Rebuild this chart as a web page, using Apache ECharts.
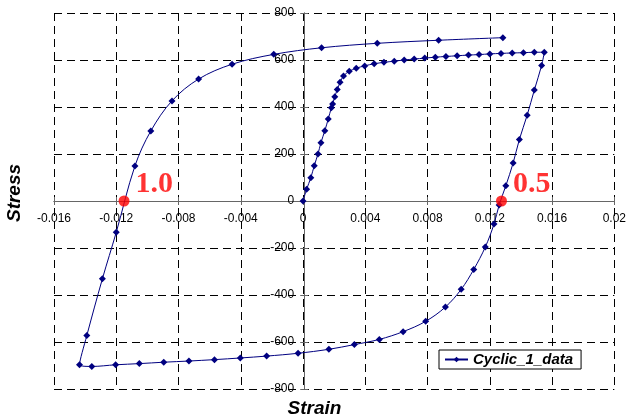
<!DOCTYPE html>
<html><head><meta charset="utf-8">
<script src="https://cdn.jsdelivr.net/npm/echarts@6/dist/echarts.min.js"></script>
<style>html,body{margin:0;padding:0;background:#fff}#c{width:629px;height:420px}</style>
</head><body><div id="c"></div>
<script>
// Cyclic_1_data: initial loading, unloading, reloading (strain, stress)
const strain = [
  0, 0.00023, 0.0005, 0.00072, 0.00096, 0.00115, 0.0014, 0.00162, 0.00182, 0.0019,
  0.00204, 0.0022, 0.00238, 0.0026, 0.00297, 0.00342, 0.00396, 0.00457, 0.0052, 0.00586,
  0.0065, 0.00714, 0.00782, 0.0085, 0.00918, 0.0099, 0.01063, 0.01131, 0.012, 0.01272,
  0.01344, 0.01416, 0.01486, 0.0155,
  0.01533, 0.01486, 0.0144, 0.0139, 0.0135, 0.01303, 0.0126, 0.01227, 0.01171, 0.01097,
  0.01016, 0.00915, 0.00788, 0.00643, 0.0049, 0.0033, 0.00166, -0.00032, -0.00234, -0.00403,
  -0.00569, -0.00733, -0.00895, -0.01052, -0.01204, -0.01357, -0.01436,
  -0.01389, -0.01289, -0.012, -0.0108, -0.00978, -0.00842, -0.00671, -0.00456, -0.00188,
  0.00119, 0.00477, 0.00871, 0.01284
];
const stress = [
  0, 50, 99, 150, 200, 248, 299, 349, 397, 413,
  444, 474, 505, 532, 552, 565, 575, 584, 590, 595,
  600, 604, 608, 612, 615, 618, 621, 623, 626, 628,
  630, 631, 633, 633,
  577, 472, 365, 262, 162, 65, -17, -98, -196, -291,
  -376, -451, -512, -556, -589, -611, -631, -648, -660, -668,
  -675, -681, -686, -692, -697, -704, -697,
  -572, -331, -133, 149, 298, 426, 519, 582, 624,
  652, 671, 684, 695
];
const seriesName = 'Cyclic_1_data';
const markerStrain = [-0.0115, 0.01275];
const markerStress = [0, 0];
const markerLabels = ['1.0', '0.5'];
const xMin = -0.016, xMax = 0.02, xStep = 0.004;
const yMin = -800, yMax = 800, yStep = 200;

const W = 629, H = 420;
const G = { left: 54, right: 12, top: 13, bottom: 31 };
const plotW = W - G.left - G.right, plotH = H - G.top - G.bottom;
// shift axes from the grid edges to the zero lines of the other axis
const yAxisShift = -plotW * (0 - xMin) / (xMax - xMin);
const xAxisShift = -plotH * (0 - yMin) / (yMax - yMin);

const font = 'Liberation Sans, Arial, sans-serif';
const axisGray = '#666';
const gridLine = { show: true, lineStyle: { color: '#000', width: 1, type: [8, 5] } };
const tickStyle = { color: axisGray, width: 1 };

const chart = echarts.init(document.getElementById('c'), null, { renderer: 'canvas' });
chart.setOption({
  animation: false,
  backgroundColor: '#fff',
  grid: G,
  xAxis: [
    {
      type: 'value', min: xMin, max: xMax, interval: xStep, position: 'bottom', offset: xAxisShift,
      axisLine: { onZero: false, lineStyle: { color: axisGray, width: 1 } },
      axisTick: { show: true, length: 4, lineStyle: tickStyle },
      axisLabel: { margin: 12, color: '#000', fontFamily: font, fontSize: 12,
        formatter: v => String(+(+v).toFixed(3)) },
      splitLine: gridLine
    },
    {
      type: 'value', min: xMin, max: xMax, interval: xStep, position: 'bottom', offset: xAxisShift,
      axisLine: { onZero: false, lineStyle: { color: axisGray, width: 1 } },
      axisTick: { show: true, inside: true, length: 4, lineStyle: tickStyle },
      axisLabel: { show: false }, splitLine: { show: false }
    }
  ],
  yAxis: [
    {
      type: 'value', min: yMin, max: yMax, interval: yStep, position: 'left', offset: yAxisShift,
      axisLine: { onZero: false, lineStyle: { color: axisGray, width: 1 } },
      axisTick: { show: true, length: 4, lineStyle: tickStyle },
      axisLabel: { margin: 10, color: '#000', fontFamily: font, fontSize: 12 },
      splitLine: gridLine
    },
    {
      type: 'value', min: yMin, max: yMax, interval: yStep, position: 'left', offset: yAxisShift,
      axisLine: { onZero: false, lineStyle: { color: axisGray, width: 1 } },
      axisTick: { show: true, inside: true, length: 4, lineStyle: tickStyle },
      axisLabel: { show: false }, splitLine: { show: false }
    }
  ],
  legend: {
    data: [seriesName], left: 439, top: 350,
    backgroundColor: '#fff', borderColor: '#000', borderWidth: 1,
    padding: [2, 8, 2, 5], itemWidth: 23, itemHeight: 7, itemGap: 4,
    textStyle: { color: '#000', fontFamily: font, fontSize: 15, fontWeight: 'bold', fontStyle: 'italic' }
  },
  graphic: [
    { type: 'text', left: 'center', x: 0, top: 399,
      style: { text: 'Strain', font: 'italic bold 19px ' + font, fill: '#000' } },
    { type: 'text', x: 5, y: 193, rotation: Math.PI / 2, originX: 0, originY: 0,
      style: { text: 'Stress', font: 'italic bold 19px ' + font, fill: '#000', align: 'center', verticalAlign: 'top' } }
  ],
  series: [
    {
      type: 'line', name: seriesName, xAxisIndex: 0, yAxisIndex: 0,
      data: strain.map((s, i) => [s, stress[i]]),
      smooth: 0.35, symbol: 'diamond', symbolSize: 7, showSymbol: true,
      lineStyle: { color: '#000080', width: 1 }, itemStyle: { color: '#000080' }, z: 3
    },
    {
      type: 'scatter', name: 'markers', xAxisIndex: 0, yAxisIndex: 0,
      data: markerStrain.map((s, i) => [s, markerStress[i]]),
      symbol: 'circle', symbolSize: 11, itemStyle: { color: '#ff0000' },
      label: { show: true, position: 'right', distance: 6, offset: [0, -17],
        formatter: p => markerLabels[p.dataIndex],
        color: '#ff0000', fontFamily: 'Liberation Serif, Times New Roman, serif',
        fontWeight: 'bold', fontSize: 30 },
      z: 5
    }
  ]
});
</script></body></html>
